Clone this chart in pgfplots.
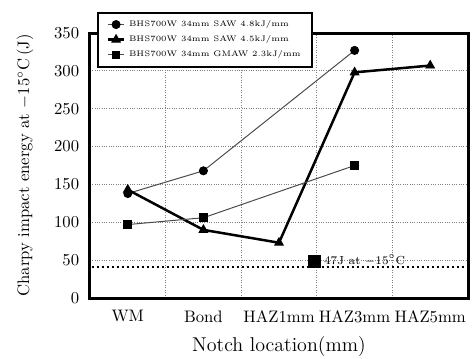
\documentclass[border=0pt]{standalone}
\usepackage{pgfplots}
\pgfplotsset{compat=1.18}
\begin{document}
\begin{tikzpicture}
\begin{axis}[name=ax, scale only axis, width=226.8pt, height=159pt,
  xmin=-0.5, xmax=4.5, ymin=0, ymax=350,
  xtick={0,1,2,3,4}, xticklabels={WM,Bond,HAZ1mm,HAZ3mm,HAZ5mm},
  minor xtick={0.5,1.5,2.5,3.5}, xminorgrids=true,
  ytick={0,50,...,350}, ymajorgrids=true,
  grid style={densely dotted, gray, line width=0.5pt},
  minor grid style={densely dotted, gray, line width=0.5pt},
  major tick length=0pt, minor tick length=0pt,
  axis line style={line width=1.8pt},
  tick label style={font=\fontsize{10}{11}\selectfont},
  xticklabel style={yshift=-4pt},
  yticklabel style={xshift=-3pt},
  xlabel={Notch location(mm)},
  ylabel={Charpy impact energy at $-15^{\circ}$C\,(J)},
  xlabel style={font=\fontsize{12}{13}\selectfont, at={(axis description cs:0.5,-0.182)}, anchor=center},
  ylabel style={font=\fontsize{10}{11}\selectfont, at={(axis description cs:-0.172,0.5)}, anchor=center},
  legend style={at={(0.019,1.08)}, anchor=north west, draw=black, line width=1.2pt, fill=white,
    font=\fontsize{4.8}{5.5}\selectfont, row sep=0pt, inner xsep=5pt, inner ysep=2.5pt, cells={anchor=west}},
  legend image code/.code={\draw[mark repeat=2, mark phase=2, #1] plot coordinates {(0pt,0pt) (5pt,0pt) (10pt,0pt)};},
  clip=false,
]
\addplot[gray!60!black, line width=0.6pt, mark=*, mark size=2.4pt, mark options={fill=black, draw=black, solid}]
  coordinates {(0,138) (1,168) (3,327)};
\addlegendentry{BHS700W 34mm SAW 4.8kJ/mm}
\addplot[black, line width=1.5pt, mark=triangle*, mark size=3pt, mark options={fill=black, solid, line width=0.5pt}]
  coordinates {(0,143) (1,90) (2,73) (3,298) (4,307)};
\addlegendentry{BHS700W 34mm SAW 4.5kJ/mm}
\addplot[gray!60!black, line width=0.6pt, mark=square*, mark size=2.3pt, mark options={fill=black, draw=black, solid}]
  coordinates {(0,97) (1,106) (3,175)};
\addlegendentry{BHS700W 34mm GMAW 2.3kJ/mm}
\addplot[black, line width=0.8pt, dash pattern=on 1.5pt off 1.5pt, forget plot]
  coordinates {(-0.48,41) (4.48,41)};
\addplot[only marks, black, mark=square*, mark size=3.5pt, forget plot]
  coordinates {(2.47,48)};
\node[anchor=west, font=\fontsize{7}{8}\selectfont, inner sep=1pt] at (axis cs:2.57,50) {47J at $-15^{\circ}$C};
\end{axis}
\pgfresetboundingbox
\path[use as bounding box] ([xshift=-54pt,yshift=-36pt]ax.south west) rectangle ([xshift=3pt,yshift=19.8pt]ax.north east);
\end{tikzpicture}
\end{document}
